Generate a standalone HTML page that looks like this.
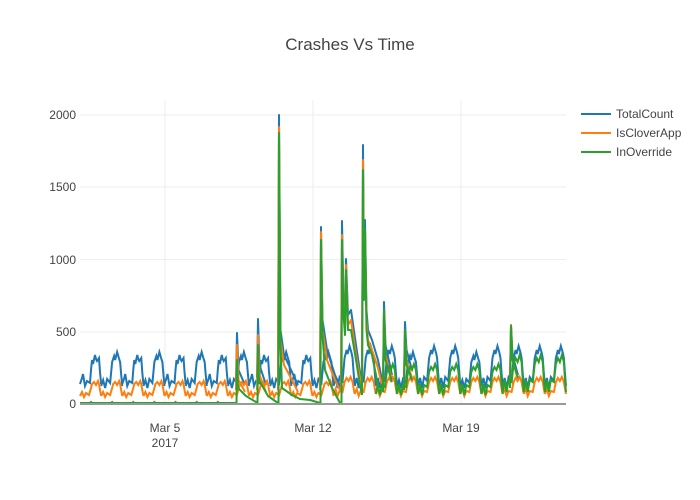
<!DOCTYPE html>
<html><head><meta charset="utf-8"><style>
body{margin:0;background:#fff}
svg{display:block;font-family:"Liberation Sans",sans-serif}
</style></head><body>
<svg width="700" height="500" xmlns="http://www.w3.org/2000/svg" xmlns:xlink="http://www.w3.org/1999/xlink">
<defs>
<path id="t1" d="M0,384 L2,378 L3,374 L5,386 L7,381 L10,383 L11,370 L12,360 L13,364 L15,355 L16,359 L17,361 L19,358 L20,372 L21.13,384" fill="none" stroke="#1f77b4" stroke-width="2"/>
<path id="t2" d="M0,386 L2,380 L4,388 L6,379 L9,383 L11,362 L13,356 L14,360 L16,352 L18,359 L19,362 L20,374 L21.13,386" fill="none" stroke="#1f77b4" stroke-width="2"/>
<path id="t3" d="M0,386 L2,378 L4,388 L6,377 L9,381 L11,358 L13,350 L14,354 L16,346 L18,353 L19,358 L20,372 L21.13,386" fill="none" stroke="#1f77b4" stroke-width="2"/>
<path id="o1" d="M0,396 L2,392 L4,397 L6,393 L9,395 L11,388 L12,384 L14,382 L16,385 L18,381 L19,384 L20,390 L21.13,396" fill="none" stroke="#ff7f0e" stroke-width="2"/>
<path id="o2" d="M0,394 L2,389 L4,396 L6,391 L9,392 L11,382 L13,378 L15,381 L17,377 L19,382 L20,388 L21.13,394" fill="none" stroke="#ff7f0e" stroke-width="2"/>
<path id="g0" d="M0,403 L10,403 L11,402 L12,403 L21.13,403" fill="none" stroke="#2ca02c" stroke-width="2"/>
<path id="g2" d="M0,394 L2,384 L4,395 L6,385 L9,387 L11,372 L13,367 L15,370 L17,364 L19,370 L20,382 L21.13,394" fill="none" stroke="#2ca02c" stroke-width="2"/>
<path id="g3" d="M0,392 L2,380 L4,392 L6,380 L9,382 L11,364 L13,358 L15,362 L17,355 L19,362 L20,378 L21.13,392" fill="none" stroke="#2ca02c" stroke-width="2"/>
</defs>
<rect width="700" height="500" fill="#fff"/>
<g stroke="#eee" stroke-width="1">
<line x1="80" x2="566" y1="115" y2="115"/><line x1="80" x2="566" y1="187" y2="187"/>
<line x1="80" x2="566" y1="259.5" y2="259.5"/><line x1="80" x2="566" y1="332" y2="332"/>
<line x1="165" x2="165" y1="100" y2="404"/><line x1="313" x2="313" y1="100" y2="404"/><line x1="461" x2="461" y1="100" y2="404"/>
</g>
<g>
<use xlink:href="#t1" x="80"/><use xlink:href="#t2" x="101.13"/><use xlink:href="#t1" x="122.26"/><use xlink:href="#t2" x="143.39"/>
<use xlink:href="#t1" x="164.52"/><use xlink:href="#t2" x="185.65"/><use xlink:href="#t1" x="206.78"/><use xlink:href="#t2" x="227.91"/>
<use xlink:href="#t1" x="249.04"/><use xlink:href="#t2" x="270.17"/><use xlink:href="#t1" x="291.3"/><use xlink:href="#t2" x="312.43"/>
<use xlink:href="#t3" x="333.56"/><use xlink:href="#t3" x="354.69"/><use xlink:href="#t3" x="375.82"/><use xlink:href="#t2" x="396.95"/>
<use xlink:href="#t3" x="418.08"/><use xlink:href="#t3" x="439.21"/><use xlink:href="#t2" x="460.34"/><use xlink:href="#t3" x="481.47"/>
<use xlink:href="#t3" x="502.6"/><use xlink:href="#t3" x="523.73"/><use xlink:href="#t3" x="544.86"/>
</g>
<g fill="none" stroke="#1f77b4" stroke-width="2" stroke-linejoin="round">
<path d="M236,380 L237,333 L238.5,370 L245,385"/>
<path d="M257,378 L258,319 L259.5,365 L266,385"/>
<path d="M278,380 L279,115 L280.5,330 L284,355 L292,372 L298,385"/>
<path d="M320,380 L321,227 L322.5,320 L327,350 L335,375 L341,388"/>
<path d="M341,388 L342,221 L343.5,300 L345,320 L346,259 L348,315 L351,310 L356,345 L360,372 L362,385"/>
<path d="M362,385 L363,145 L364,280 L365,220 L366.5,310 L368,330 L372,340 L378,360 L383,385"/>
<path d="M383,385 L384,302 L385.5,345 L392,375"/>
<path d="M404,380 L405,322 L406.5,350 L412,370"/>
<path d="M510,380 L511,325 L512.5,355 L518,375"/>
</g>
<g>
<use xlink:href="#o1" x="80"/><use xlink:href="#o1" x="101.13"/><use xlink:href="#o1" x="122.26"/><use xlink:href="#o1" x="143.39"/>
<use xlink:href="#o1" x="164.52"/><use xlink:href="#o1" x="185.65"/><use xlink:href="#o1" x="206.78"/><use xlink:href="#o1" x="227.91"/>
<use xlink:href="#o1" x="249.04"/><use xlink:href="#o1" x="270.17"/><use xlink:href="#o1" x="291.3"/><use xlink:href="#o1" x="312.43"/>
<use xlink:href="#o2" x="333.56"/><use xlink:href="#o2" x="354.69"/><use xlink:href="#o2" x="375.82"/><use xlink:href="#o2" x="396.95"/>
<use xlink:href="#o2" x="418.08"/><use xlink:href="#o2" x="439.21"/><use xlink:href="#o2" x="460.34"/><use xlink:href="#o2" x="481.47"/>
<use xlink:href="#o2" x="502.6"/><use xlink:href="#o2" x="523.73"/><use xlink:href="#o2" x="544.86"/>
</g>
<g fill="none" stroke="#ff7f0e" stroke-width="2" stroke-linejoin="round">
<path d="M236,390 L237,345 L238.5,380 L245,392"/>
<path d="M257,390 L258,335 L259.5,375 L266,392"/>
<path d="M278,390 L279,127 L280.5,340 L284,365 L292,380 L298,392"/>
<path d="M320,390 L321,232 L322.5,330 L327,360 L335,380 L341,392"/>
<path d="M341,392 L342,235 L343.5,310 L345,330 L346,265 L348,325 L351,320 L356,355 L360,378 L362,390"/>
<path d="M362,390 L363,160 L364,290 L365,230 L366.5,320 L368,340 L372,350 L378,368 L383,390"/>
<path d="M383,390 L384,310 L385.5,355 L392,380"/>
<path d="M404,388 L405,330 L406.5,360 L412,378"/>
<path d="M510,385 L511,325 L512.5,360 L518,380"/>
</g>
<g>
<use xlink:href="#g0" x="80"/><use xlink:href="#g0" x="101.13"/><use xlink:href="#g0" x="122.26"/><use xlink:href="#g0" x="143.39"/>
<use xlink:href="#g0" x="164.52"/><use xlink:href="#g0" x="185.65"/><use xlink:href="#g0" x="206.78"/>
<use xlink:href="#g2" x="375.82"/><use xlink:href="#g2" x="396.95"/>
<use xlink:href="#g2" x="418.08"/><use xlink:href="#g2" x="439.21"/><use xlink:href="#g2" x="460.34"/><use xlink:href="#g2" x="481.47"/>
<use xlink:href="#g3" x="502.6"/><use xlink:href="#g3" x="523.73"/><use xlink:href="#g3" x="544.86"/>
</g>
<g fill="none" stroke="#2ca02c" stroke-width="2" stroke-linejoin="round">
<path d="M227.9,403 L236.5,403 L237,360 L238,388 L246,396 L256,402 L257.5,403"/>
<path d="M257.5,403 L258,345 L259,380 L268,396 L278,403"/>
<path d="M278.5,403 L279,133 L280.5,345 L282,388 L292,395 L300,399 L310,400 L320,403"/>
<path d="M320.5,403 L321,240 L322.5,335 L325,370 L332,388 L340,403"/>
<path d="M341.5,403 L342,240 L343.5,315 L345,335 L346,270 L348,330 L351,330 L356,360 L360,385 L362,395"/>
<path d="M362,395 L363,170 L364,300 L365,230 L366.5,330 L368,345 L372,355 L376,375 L378,388"/>
<path d="M383,392 L384,310 L385.5,360 L392,382"/>
<path d="M404,390 L405,330 L406.5,365 L412,380"/>
<path d="M510,388 L511,326 L512.5,360 L518,378"/>
</g>
<line x1="80" x2="566" y1="404" y2="404" stroke="#999" stroke-width="2"/>
<text x="350" y="50" text-anchor="middle" font-size="17" fill="#444">Crashes Vs Time</text>
<g font-size="12" fill="#444" text-anchor="end">
<text x="76" y="119">2000</text><text x="76" y="191">1500</text><text x="76" y="264">1000</text><text x="76" y="336">500</text><text x="76" y="408">0</text>
</g>
<g font-size="12" fill="#444" text-anchor="middle">
<text x="165" y="432">Mar 5</text><text x="165" y="447">2017</text><text x="313" y="432">Mar 12</text><text x="461" y="432">Mar 19</text>
</g>
<g font-size="12" fill="#444">
<line x1="581" x2="611" y1="114" y2="114" stroke="#1f77b4" stroke-width="2"/><text x="616" y="118">TotalCount</text>
<line x1="581" x2="611" y1="133" y2="133" stroke="#ff7f0e" stroke-width="2"/><text x="616" y="137">IsCloverApp</text>
<line x1="581" x2="611" y1="152" y2="152" stroke="#2ca02c" stroke-width="2"/><text x="616" y="156">InOverride</text>
</g>
</svg>
</body></html>
